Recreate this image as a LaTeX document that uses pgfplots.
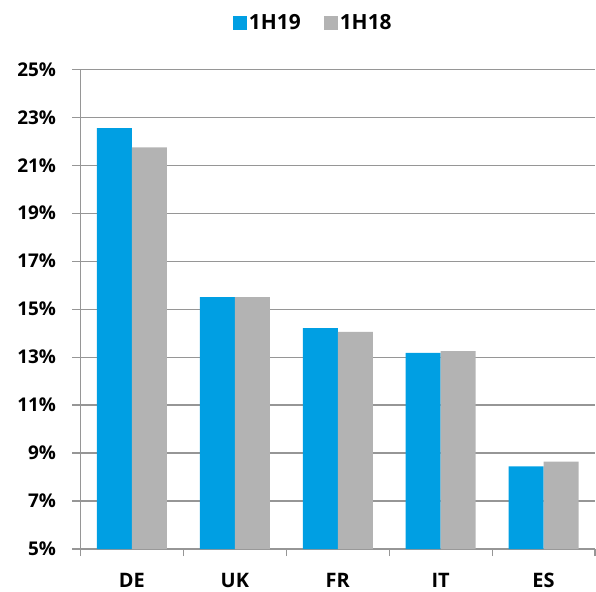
\documentclass[border=0pt]{standalone}
\usepackage{fontspec}
\setmainfont{Open Sans}
\usepackage{pgfplots}
\pgfplotsset{compat=1.18}
\definecolor{cblue}{RGB}{0,159,227}
\definecolor{cgray}{RGB}{179,179,179}
\definecolor{cgrid}{RGB}{150,150,150}
\begin{document}
\begin{tikzpicture}
\begin{axis}[
  scale only axis,
  width=514.5bp, height=479.7bp,
  xmin=-0.5, xmax=4.5,
  ymin=5, ymax=25,
  ytick={5,7,...,25},
  xtick={0,1,2,3,4},
  xticklabels={DE,UK,FR,IT,ES},
  minor xtick={-0.5,0.5,1.5,2.5,3.5,4.5},
  ybar=0pt, bar width=35bp,
  axis x line*=bottom, axis y line*=left,
  x axis line style={-}, y axis line style={-},
  axis line style={cgrid, line width=1.2bp},
  ymajorgrids, grid style={cgrid, line width=1.2bp},
  tick align=outside,
  major tick length=8bp, minor tick length=7bp,
  major x tick style={draw=none},
  minor x tick style={cgrid, line width=1.2bp},
  major y tick style={cgrid, line width=1.2bp},
  /pgf/number format/assume math mode=true,
  yticklabel={\pgfmathprintnumber{\tick}\%},
  yticklabel style={font=\bfseries\fontsize{19}{19}\selectfont, text=black, xshift=-13bp},
  xticklabel style={font=\bfseries\fontsize{20}{20}\selectfont, text=black, yshift=-13bp},
  legend style={at={(0.4525,1.097)}, anchor=center, draw=none, fill=none,
    legend columns=2, font=\bfseries\fontsize{21}{21}\selectfont,
    /tikz/every even column/.append style={column sep=21bp}},
  legend image code/.code={\fill[#1] (0bp,-7bp) rectangle (14bp,7bp);},
]
\addplot[fill=cblue, draw=none] coordinates {(0,22.55) (1,15.5) (2,14.21) (3,13.18) (4,8.45)};
\addplot[fill=cgray, draw=none] coordinates {(0,21.74) (1,15.5) (2,14.05) (3,13.25) (4,8.64)};
\legend{1H19,1H18}
\end{axis}
\pgfresetboundingbox
\path (-80.5bp,-43bp) rectangle (515.5bp,549bp);
\end{tikzpicture}
\end{document}
